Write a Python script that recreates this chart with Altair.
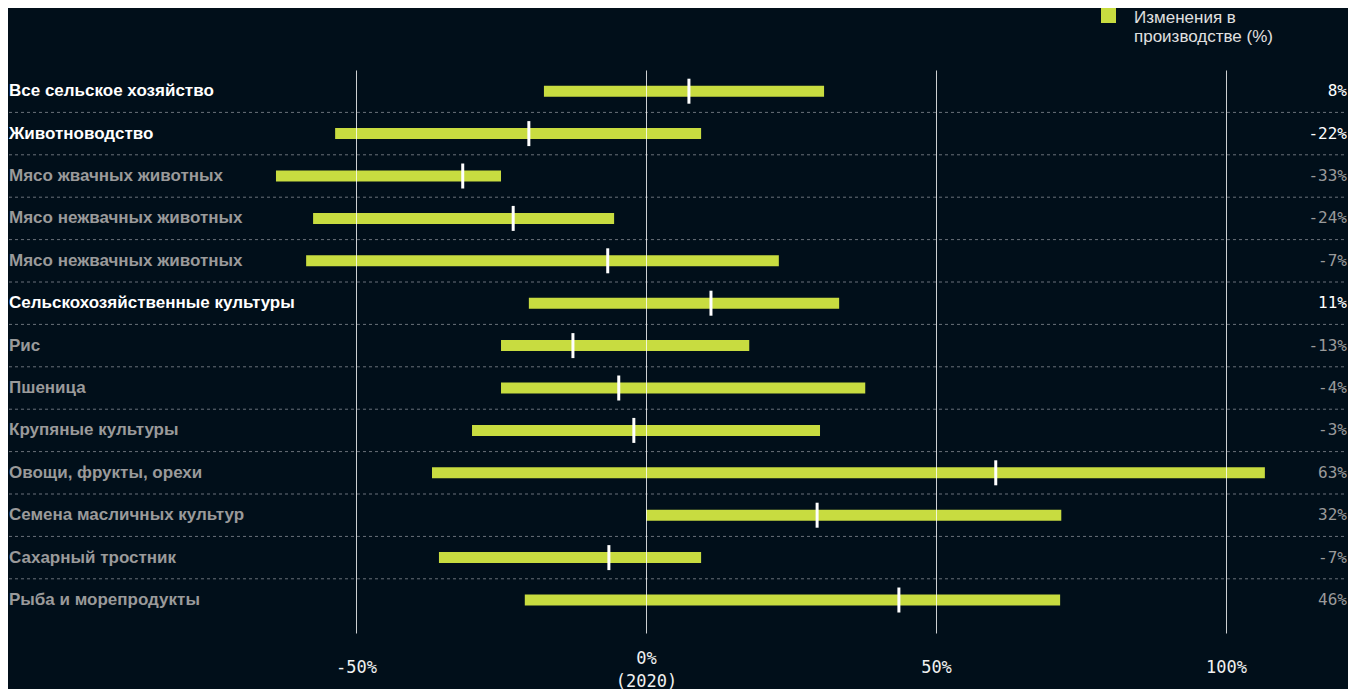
import altair as alt
import pandas as pd

# ---- data ----
categories = [
    "Все сельское хозяйство",
    "Животноводство",
    "Мясо жвачных животных",
    "Мясо нежвачных животных",
    "Мясо нежвачных животных",
    "Сельскохозяйственные культуры",
    "Рис",
    "Пшеница",
    "Крупяные культуры",
    "Овощи, фрукты, орехи",
    "Семена масличных культур",
    "Сахарный тростник",
    "Рыба и морепродукты",
]
low = [-17.6, -53.6, -63.8, -57.4, -58.6, -20.2, -25.0, -25.0, -30.0, -36.9, 0.0, -35.7, -20.9]
high = [30.7, 9.5, -25.0, -5.5, 22.9, 33.3, 17.8, 37.8, 30.0, 106.7, 71.6, 9.5, 71.4]
mid = [7.4, -20.2, -31.6, -22.9, -6.6, 11.2, -12.6, -4.7, -2.1, 60.3, 29.5, -6.4, 43.6]
value_labels = ["8%", "-22%", "-33%", "-24%", "-7%", "11%", "-13%", "-4%", "-3%",
                "63%", "32%", "-7%", "46%"]
is_group = [True, True, False, False, False, True, False, False, False,
            False, False, False, False]
tick_values = [-50, 0, 50, 100]
series_name = "Изменения в производстве (%)"

df = pd.DataFrame({
    "row": list(range(len(categories))),
    "cat": categories,
    "low": low,
    "high": high,
    "mid": mid,
    "vlabel": value_labels,
    "bold": is_group,
    "series": [series_name] * len(categories),
})

W = 1338
H = 563
BG = "#010f1a"
LIME = "#c8dc40"
GRAY = "#9a9a9a"

x_scale = alt.Scale(domain=[-109.83, 120.86], nice=False, zero=False)
y_scale = alt.Scale(paddingInner=0, paddingOuter=0.139, align=0)

x_axis = alt.Axis(
    values=tick_values,
    title=None,
    domain=False,
    ticks=False,
    tickSize=0,
    grid=True,
    gridColor="#ffffff",
    gridOpacity=0.8,
    gridWidth=1,
    labelExpr="datum.value == 0 ? ['0%', '(2020)'] : datum.value + '%'",
    labelFont="DejaVu Sans Mono",
    labelFontSize=17,
    labelColor="#f0f0f0",
    labelBaseline="middle",
    labelLineHeight=23,
    labelPadding={"condition": {"test": "datum.value === 0", "value": 25}, "value": 34},
    labelFlush=False,
    labelOverlap=False,
    zindex=1,
)

base = alt.Chart(df)

y_enc = alt.Y("row:O", scale=y_scale, axis=None)

separators = base.transform_filter("datum.row > 0").mark_rule(
    color="#6a717a", strokeDash=[3, 3], strokeWidth=1
).encode(
    y=alt.Y("row:O", scale=y_scale, axis=None, bandPosition=0),
    x=alt.value(0),
    x2=alt.value(W),
)

bars = base.mark_bar(size=11).encode(
    x=alt.X("low:Q", scale=x_scale, axis=x_axis),
    x2="high:Q",
    y=y_enc,
    color=alt.Color(
        "series:N",
        scale=alt.Scale(range=[LIME]),
        legend=alt.Legend(
            title=None,
            orient="none",
            legendX=1084.5,
            legendY=-62,
            padding=0,
            symbolType="M-0.5,-1H0.5V0H-0.5Z",
            symbolSize=900,
            symbolStrokeWidth=0,
            symbolOpacity=1,
            labelExpr="['Изменения в', 'производстве (%)']",
            labelFont="Liberation Sans",
            labelFontSize=17,
            labelColor="#e0e0e0",
            labelBaseline="alphabetic",
            labelOffset=10.5,
            labelLimit=400,
        ),
    ),
)

markers = base.mark_tick(color="#ffffff", thickness=3, size=25, opacity=1).encode(
    x=alt.X("mid:Q", scale=x_scale),
    y=y_enc,
)

left_labels = base.mark_text(
    align="left", baseline="middle", font="Liberation Sans", fontSize=17, fontWeight="bold"
).encode(
    x=alt.value(0),
    y=y_enc,
    text="cat:N",
    color=alt.condition("datum.bold", alt.value("#ffffff"), alt.value(GRAY)),
)

right_labels = base.mark_text(
    align="right", baseline="middle", font="DejaVu Sans Mono", fontSize=16
).encode(
    x=alt.value(W),
    y=y_enc,
    text="vlabel:N",
    color=alt.condition("datum.bold", alt.value("#ffffff"), alt.value(GRAY)),
)

chart = alt.layer(separators, bars, markers, left_labels, right_labels).properties(
    width=W,
    height=H,
    background=BG,
    padding=0,
).configure_view(stroke=None)

chart.save("out.html", embed_options={"renderer": "svg", "actions": False})
